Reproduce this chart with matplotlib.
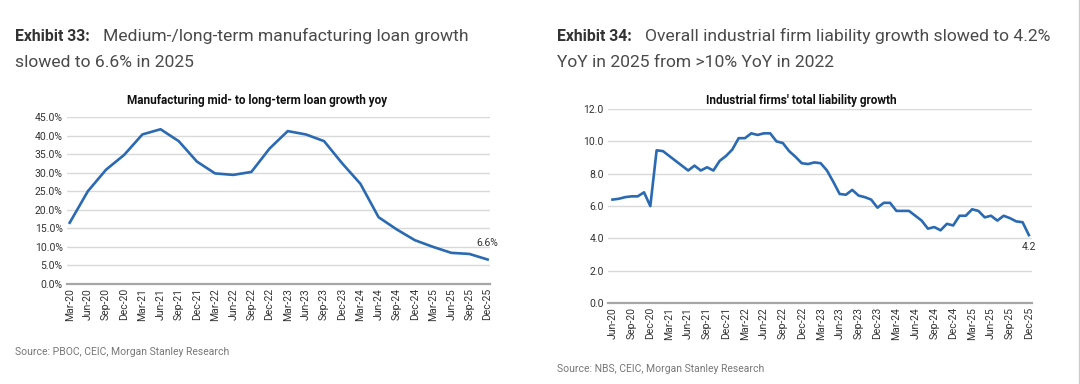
import matplotlib
matplotlib.use("Agg")
import matplotlib.pyplot as plt
import numpy as np

# left chart: quarterly, Mar-20 .. Dec-25
loan_labels = ["Mar-20", "Jun-20", "Sep-20", "Dec-20", "Mar-21", "Jun-21", "Sep-21", "Dec-21",
               "Mar-22", "Jun-22", "Sep-22", "Dec-22", "Mar-23", "Jun-23", "Sep-23", "Dec-23",
               "Mar-24", "Jun-24", "Sep-24", "Dec-24", "Mar-25", "Jun-25", "Sep-25", "Dec-25"]
loan_growth = [16.5, 25.0, 30.8, 34.8, 40.3, 41.7, 38.5, 33.0,
               29.8, 29.4, 30.2, 36.5, 41.2, 40.3, 38.5, 32.5,
               27.0, 18.0, 14.7, 11.8, 10.0, 8.4, 8.1, 6.6]

# right chart: monthly, Jun-20 .. Dec-25
liab_growth = [6.4, 6.45, 6.55, 6.6, 6.6, 6.85, 6.0,          # Jun-20 .. Dec-20
               9.45, 9.4, 9.1, 8.8, 8.5, 8.2, 8.5, 8.2, 8.4, 8.2, 8.8, 9.1,   # 2021
               9.5, 10.2, 10.2, 10.5, 10.4, 10.5, 10.5, 10.0, 9.9, 9.4, 9.05, 8.65,  # 2022
               8.6, 8.7, 8.65, 8.2, 7.5, 6.75, 6.7, 7.0, 6.65, 6.55, 6.4, 5.9,  # 2023
               6.2, 6.2, 5.7, 5.7, 5.7, 5.4, 5.1, 4.6, 4.7, 4.5, 4.9, 4.8,   # 2024
               5.4, 5.4, 5.8, 5.7, 5.3, 5.4, 5.1, 5.4, 5.25, 5.05, 5.0, 4.2]  # 2025
liab_labels = ["Jun-20", "Sep-20", "Dec-20", "Mar-21", "Jun-21", "Sep-21", "Dec-21", "Mar-22",
               "Jun-22", "Sep-22", "Dec-22", "Mar-23", "Jun-23", "Sep-23", "Dec-23", "Mar-24",
               "Jun-24", "Sep-24", "Dec-24", "Mar-25", "Jun-25", "Sep-25", "Dec-25"]

BLUE = "#2a6ab3"
GRID = "#d9d9d9"
AXIS = "#a6a6a6"
TXT = "#4a4a4a"
narrow = ["Liberation Sans Narrow", "Roboto", "DejaVu Sans"]
plt.rcParams["font.family"] = ["Roboto", "DejaVu Sans"]

fig = plt.figure(figsize=(10.8, 3.84), dpi=100)


def style_axes(ax):
    for s in ["top", "right", "left"]:
        ax.spines[s].set_visible(False)
    ax.spines["bottom"].set_color(AXIS)
    ax.spines["bottom"].set_linewidth(1.6)
    ax.grid(axis="y", color=GRID, linewidth=1.0)
    ax.set_axisbelow(True)
    ax.tick_params(axis="both", length=0, colors="#333333", labelsize=7.5, pad=3)
    for lab in ax.get_xticklabels() + ax.get_yticklabels():
        lab.set_family(narrow)


# headers
fig.text(0.014, 0.905, "Exhibit 33:", fontsize=11.3, fontweight="bold", color="#333333", va="center")
fig.text(0.0954, 0.905, "Medium-/long-term manufacturing loan growth", fontsize=12.6, color=TXT, va="center")
fig.text(0.014, 0.838, "slowed to 6.6% in 2025", fontsize=12.6, color=TXT, va="center")
fig.text(0.516, 0.905, "Exhibit 34:", fontsize=11.3, fontweight="bold", color="#333333", va="center")
fig.text(0.597, 0.905, "Overall industrial firm liability growth slowed to 4.2%", fontsize=12.6, color=TXT, va="center")
fig.text(0.516, 0.838, "YoY in 2025 from >10% YoY in 2022", fontsize=12.6, color=TXT, va="center")

# chart titles, centred on the whole chart block
fig.text(0.238, 0.738, "Manufacturing mid- to long-term loan growth yoy", fontsize=8.5,
         fontweight="bold", family=narrow, color="#111111", ha="center", va="center")
fig.text(0.742, 0.738, "Industrial firms' total liability growth", fontsize=8.5,
         fontweight="bold", family=narrow, color="#111111", ha="center", va="center")

# left chart
ax1 = fig.add_axes([0.062, 0.2604, 0.392, 0.4349])
x1 = np.arange(len(loan_growth))
ax1.plot(x1, loan_growth, color=BLUE, linewidth=1.9, solid_joinstyle="round")
ax1.set_ylim(0, 45)
ax1.set_yticks(np.arange(0, 46, 5))
ax1.set_yticklabels([f"{v:.1f}%" for v in np.arange(0, 46, 5)])
ax1.set_xlim(-0.15, len(loan_growth) - 0.85)
ax1.set_xticks(x1)
ax1.set_xticklabels(loan_labels, rotation=90)
style_axes(ax1)
ax1.annotate(f"{loan_growth[-1]:.1f}%", (x1[-1], loan_growth[-1]), xytext=(0, 8),
             textcoords="offset points", ha="center", va="bottom", fontsize=7.5,
             color="#333333", family=narrow)

# right chart
ax2 = fig.add_axes([0.563, 0.2109, 0.3926, 0.505])
x2 = np.arange(len(liab_growth))
ax2.plot(x2, liab_growth, color=BLUE, linewidth=1.9, solid_joinstyle="round")
ax2.set_ylim(0, 12)
ax2.set_yticks(np.arange(0, 13, 2))
ax2.set_yticklabels([f"{v:.1f}" for v in np.arange(0, 13, 2)])
ax2.set_xlim(-0.7, len(liab_growth) - 0.5)
ax2.set_xticks(np.arange(0, len(liab_growth), 3))
ax2.set_xticklabels(liab_labels, rotation=90)
style_axes(ax2)
ax2.annotate(f"{liab_growth[-1]:.1f}", (x2[-1], liab_growth[-1]), xytext=(0, -5),
             textcoords="offset points", ha="center", va="top", fontsize=7.5,
             color="#333333", family=narrow)

# sources
fig.text(0.014, 0.083, "Source: PBOC, CEIC, Morgan Stanley Research", fontsize=7.5, color="#777777", va="center")
fig.text(0.516, 0.04, "Source: NBS, CEIC, Morgan Stanley Research", fontsize=7.5, color="#777777", va="center")

# thin frame line at right edge
fig.add_artist(plt.Line2D([0.9995, 0.9995], [0, 1], color="#cccccc", linewidth=1.0))

fig.savefig("out.png", dpi=100)
